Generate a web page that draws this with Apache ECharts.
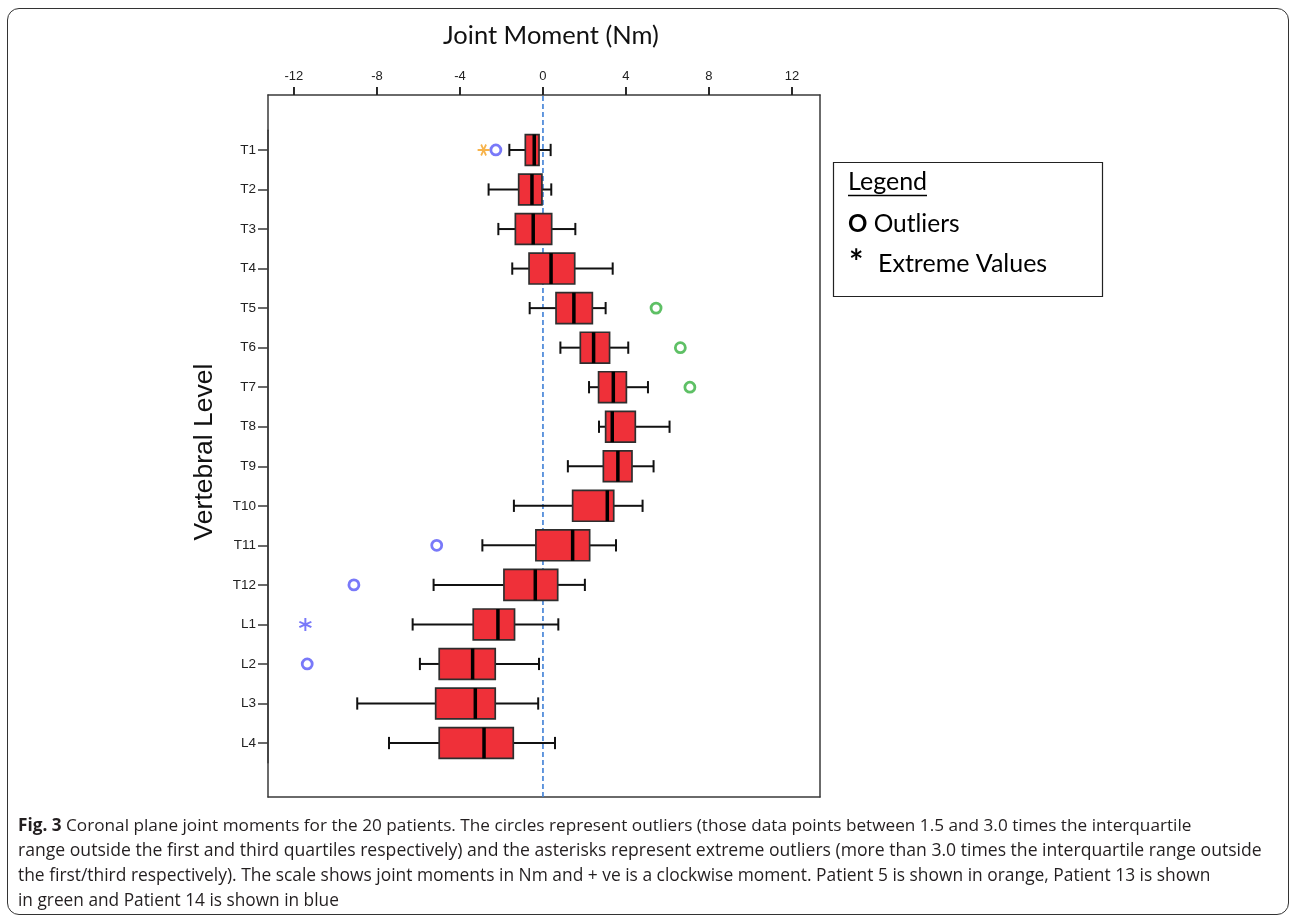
<!DOCTYPE html>
<html>
<head>
<meta charset="utf-8">
<script src="https://cdn.jsdelivr.net/npm/echarts@6.0.0/dist/echarts.min.js"></script>
<style>
  html, body { margin: 0; padding: 0; background: #fff; }
  #wrap { position: relative; width: 1292px; height: 923px; }
  #chart { width: 1292px; height: 923px; }
  #border { position: absolute; left: 7px; top: 8px; width: 1280px; height: 905px;
            border: 1.5px solid #333; border-radius: 12px; pointer-events: none; background: transparent; }
</style>
</head>
<body>
<div id="wrap">
  <div id="chart"></div>
  <div id="border"></div>
</div>
<script>
// ---------------- data ----------------
const CATEGORIES = ['T1','T2','T3','T4','T5','T6','T7','T8','T9','T10','T11','T12','L1','L2','L3','L4'];
const WHISKER_LOW  = [-1.62, -2.62, -2.15, -1.48, -0.64, 0.84, 2.22, 2.70, 1.20, -1.40, -2.92, -5.27, -6.28, -5.93, -8.95, -7.42];
const QUARTILE_1   = [-0.85, -1.17, -1.33, -0.67,  0.63, 1.80, 2.68, 3.02, 2.91,  1.43, -0.34, -1.88, -3.36, -5.00, -5.17, -5.00];
const MEDIAN       = [-0.42, -0.53, -0.47,  0.39,  1.49, 2.44, 3.39, 3.34, 3.61,  3.10,  1.43, -0.37, -2.17, -3.39, -3.26, -2.84];
const QUARTILE_3   = [-0.19, -0.05,  0.42,  1.53,  2.38, 3.21, 4.02, 4.45, 4.29,  3.41,  2.25,  0.71, -1.37, -2.30, -2.30, -1.43];
const WHISKER_HIGH = [ 0.37,  0.40,  1.56,  3.36,  3.02, 4.11, 5.06, 6.10, 5.33,  4.80,  3.52,  2.02,  0.74, -0.19, -0.23,  0.58];

const OUTLIERS_PATIENT14 = [[-2.27, 'T1'], [-5.12, 'T11'], [-9.11, 'T12'], [-11.36, 'L2']];
const OUTLIERS_PATIENT13 = [[5.45, 'T5'], [6.62, 'T6'], [7.08, 'T7']];
const EXTREMES_PATIENT5  = [[-2.86, 'T1']];
const EXTREMES_PATIENT14 = [[-11.45, 'L1']];

const X_TICKS = [-12, -8, -4, 0, 4, 8, 12];
const X_MIN = -13.25, X_MAX = 13.35;
const REFERENCE_X = 0;

const TITLE = 'Joint Moment (Nm)';
const Y_NAME = 'Vertebral Level';
const CAPTION_LINES = [
  '{b|Fig. 3} Coronal plane joint moments for the 20 patients. The circles represent outliers (those data points between 1.5 and 3.0 times the interquartile',
  'range outside the first and third quartiles respectively) and the asterisks represent extreme outliers (more than 3.0 times the interquartile range outside',
  'the first/third respectively). The scale shows joint moments in Nm and + ve is a clockwise moment. Patient 5 is shown in orange, Patient 13 is shown',
  'in green and Patient 14 is shown in blue'
];

// ---------------- layout / style ----------------
const FRAME = { left: 268, right: 472, top: 95, bottom: 126 };
const BAND_TOP = 130.2, BAND_BOTTOM = 160.2;
const AXIS_COLOR = '#3a3a3a';
const BOX_FILL = '#ef3039';
const CAPTION_SIZES = [17.2, 17.6, 17.4, 17.3];
const ASTERISK = 'path://M8.5 0L11.5 0L11.5 20L8.5 20Z M0.09 7.17L1.59 4.57L19.91 12.83L18.41 15.43Z M1.59 15.43L0.09 12.83L18.41 4.57L19.91 7.17Z';
const HIDDEN = { show: false };

const boxData = CATEGORIES.map((c, i) => [i, WHISKER_LOW[i], QUARTILE_1[i], MEDIAN[i], QUARTILE_3[i], WHISKER_HIGH[i]]);

function renderBox(params, api) {
  const idx = api.value(0);
  const lo = api.coord([api.value(1), idx]);
  const q1 = api.coord([api.value(2), idx]);
  const md = api.coord([api.value(3), idx]);
  const q3 = api.coord([api.value(4), idx]);
  const hi = api.coord([api.value(5), idx]);
  const band = api.size([0, 1])[1];
  const bh = band * 0.78;
  const ch = band * 0.31;
  const y = lo[1];
  const whisker = { stroke: '#111', lineWidth: 2 };
  return {
    type: 'group',
    children: [
      { type: 'line', shape: { x1: lo[0], y1: y, x2: q1[0], y2: y }, style: whisker },
      { type: 'line', shape: { x1: q3[0], y1: y, x2: hi[0], y2: y }, style: whisker },
      { type: 'line', shape: { x1: lo[0], y1: y - ch / 2, x2: lo[0], y2: y + ch / 2 }, style: whisker },
      { type: 'line', shape: { x1: hi[0], y1: y - ch / 2, x2: hi[0], y2: y + ch / 2 }, style: whisker },
      { type: 'rect', shape: { x: q1[0], y: y - bh / 2, width: q3[0] - q1[0], height: bh },
        style: { fill: BOX_FILL, stroke: '#2e2e2e', lineWidth: 1.7 } },
      { type: 'line', shape: { x1: md[0], y1: y - bh / 2, x2: md[0], y2: y + bh / 2 },
        style: { stroke: '#000', lineWidth: 3.5 } }
    ]
  };
}

const chart = echarts.init(document.getElementById('chart'), null, { renderer: 'canvas' });

const option = {
  backgroundColor: '#fff',
  animation: false,
  title: {
    text: TITLE, left: 443, top: 23, padding: 0,
    textStyle: { fontFamily: 'Lato', fontSize: 25.5, fontWeight: 'normal', color: '#111' }
  },
  grid: [
    { left: FRAME.left, right: FRAME.right, top: FRAME.top, bottom: FRAME.bottom, containLabel: false },
    { left: FRAME.left, right: FRAME.right, top: BAND_TOP, bottom: BAND_BOTTOM, containLabel: false }
  ],
  xAxis: [
    { gridIndex: 0, type: 'value', position: 'top', min: X_MIN, max: X_MAX,
      axisLine: { show: true, onZero: false, lineStyle: { color: AXIS_COLOR, width: 1.5 } },
      axisTick: { show: true, inside: false, length: 8, customValues: X_TICKS, lineStyle: { color: '#222', width: 1.6 } },
      axisLabel: { show: true, customValues: X_TICKS, margin: 12, fontFamily: 'Liberation Sans', fontSize: 13, color: '#222' },
      splitLine: HIDDEN },
    { gridIndex: 0, type: 'value', position: 'bottom', min: X_MIN, max: X_MAX,
      axisLine: { show: true, onZero: false, lineStyle: { color: AXIS_COLOR, width: 1.5 } },
      axisTick: HIDDEN, axisLabel: HIDDEN, splitLine: HIDDEN, minorTick: HIDDEN },
    { gridIndex: 1, type: 'value', min: X_MIN, max: X_MAX, show: false,
      axisLine: HIDDEN, axisTick: HIDDEN, axisLabel: HIDDEN, splitLine: HIDDEN }
  ],
  yAxis: [
    { gridIndex: 0, type: 'value', min: 0, max: 1, position: 'left',
      name: Y_NAME, nameLocation: 'middle', nameRotate: 90, nameGap: 50,
      nameTextStyle: { fontFamily: 'Liberation Sans', fontSize: 26.5, color: '#111', padding: [0, 12, 0, 0] },
      axisLine: { show: true, onZero: false, lineStyle: { color: AXIS_COLOR, width: 1.5 } },
      axisTick: HIDDEN, axisLabel: HIDDEN, splitLine: HIDDEN },
    { gridIndex: 0, type: 'value', min: 0, max: 1, position: 'right',
      axisLine: { show: true, onZero: false, lineStyle: { color: AXIS_COLOR, width: 1.5 } },
      axisTick: HIDDEN, axisLabel: HIDDEN, splitLine: HIDDEN },
    { gridIndex: 1, type: 'category', data: CATEGORIES, inverse: true, boundaryGap: true, position: 'left',
      axisLine: { show: true, onZero: false, lineStyle: { color: AXIS_COLOR, width: 1.5 } },
      axisTick: { show: true, alignWithLabel: true, inside: false, length: 10, lineStyle: { color: AXIS_COLOR, width: 1.5 } },
      axisLabel: { margin: 12, fontFamily: 'Liberation Sans', fontSize: 13.5, color: '#222' },
      splitLine: HIDDEN }
  ],
  series: [
    { name: 'zero', type: 'line', xAxisIndex: 0, yAxisIndex: 0, silent: true,
      data: [[REFERENCE_X, 0], [REFERENCE_X, 1]], symbol: 'none',
      lineStyle: { color: '#3d7fd6', width: 1.6, type: [5, 3] }, z: 1 },
    { name: 'boxes', type: 'custom', xAxisIndex: 2, yAxisIndex: 2,
      data: boxData, encode: { y: 0, x: [1, 2, 3, 4, 5] }, renderItem: renderBox, z: 2 },
    { name: 'Patient 14 outliers', type: 'scatter', xAxisIndex: 2, yAxisIndex: 2,
      data: OUTLIERS_PATIENT14, symbol: 'circle', symbolSize: 10,
      itemStyle: { color: 'rgba(0,0,0,0)', borderColor: '#5757f7', borderWidth: 2.8 }, z: 3 },
    { name: 'Patient 13 outliers', type: 'scatter', xAxisIndex: 2, yAxisIndex: 2,
      data: OUTLIERS_PATIENT13, symbol: 'circle', symbolSize: 10,
      itemStyle: { color: 'rgba(0,0,0,0)', borderColor: '#36b03e', borderWidth: 2.8 }, z: 3 },
    { name: 'Patient 5 extremes', type: 'scatter', xAxisIndex: 2, yAxisIndex: 2,
      data: EXTREMES_PATIENT5, symbol: ASTERISK, symbolSize: 12, symbolRotate: 90,
      itemStyle: { color: '#f5a01e' }, z: 3 },
    { name: 'Patient 14 extremes', type: 'scatter', xAxisIndex: 2, yAxisIndex: 2,
      data: EXTREMES_PATIENT14, symbol: ASTERISK, symbolSize: 13,
      itemStyle: { color: '#5757f7' }, z: 3 }
  ],
  graphic: [
    { id: 'legend-box', type: 'group', silent: true, children: [
      { type: 'rect', shape: { x: 833.5, y: 162.5, width: 269, height: 134 },
        style: { fill: '#fff', stroke: '#222', lineWidth: 1.2 } },
      { type: 'text', x: 848, y: 182,
        style: { text: 'Legend', fontFamily: 'Lato', fontSize: 25, fill: '#000', verticalAlign: 'middle' } },
      { type: 'line', shape: { x1: 848, y1: 195.5, x2: 927, y2: 195.5 }, style: { stroke: '#000', lineWidth: 1.5 } },
      { type: 'text', x: 848, y: 224,
        style: { text: '{b|O} Outliers', fontFamily: 'Lato', fontSize: 24.5, fill: '#000', verticalAlign: 'middle',
          rich: { b: { fontFamily: 'Lato', fontSize: 24, fontWeight: 'bold', fill: '#000' } } } },
      { type: 'text', x: 849, y: 263,
        style: { text: '*', fontFamily: 'Lato', fontSize: 34, fontWeight: 'bold', fill: '#000', verticalAlign: 'middle' } },
      { type: 'text', x: 878, y: 264,
        style: { text: 'Extreme Values', fontFamily: 'Lato', fontSize: 25, fill: '#000', verticalAlign: 'middle' } }
    ] },
    { id: 'caption', type: 'group', silent: true, children: CAPTION_LINES.map((t, i) => ({
      type: 'text', x: 18, y: 826 + i * 25,
      style: { text: t, fontFamily: 'Open Sans', fontSize: CAPTION_SIZES[i], fill: '#231f20', verticalAlign: 'middle',
        rich: { b: { fontFamily: 'Open Sans', fontSize: CAPTION_SIZES[i], fontWeight: 'bold', fill: '#231f20' } } }
    })) }
  ]
};

chart.setOption(option);

// top-axis tick marks, positioned through the frame axis scale (added by id, so nothing else is replaced)
const tickTopY = chart.convertToPixel({ yAxisIndex: 0 }, 1);
chart.setOption({
  graphic: X_TICKS.map((v, i) => {
    const px = chart.convertToPixel({ xAxisIndex: 0 }, v);
    return { id: 'top-tick-' + i, type: 'rect', silent: true, z: 100,
      shape: { x: px - 0.8, y: tickTopY - 8, width: 1.6, height: 8 },
      style: { fill: '#222' } };
  })
});
</script>
</body>
</html>
